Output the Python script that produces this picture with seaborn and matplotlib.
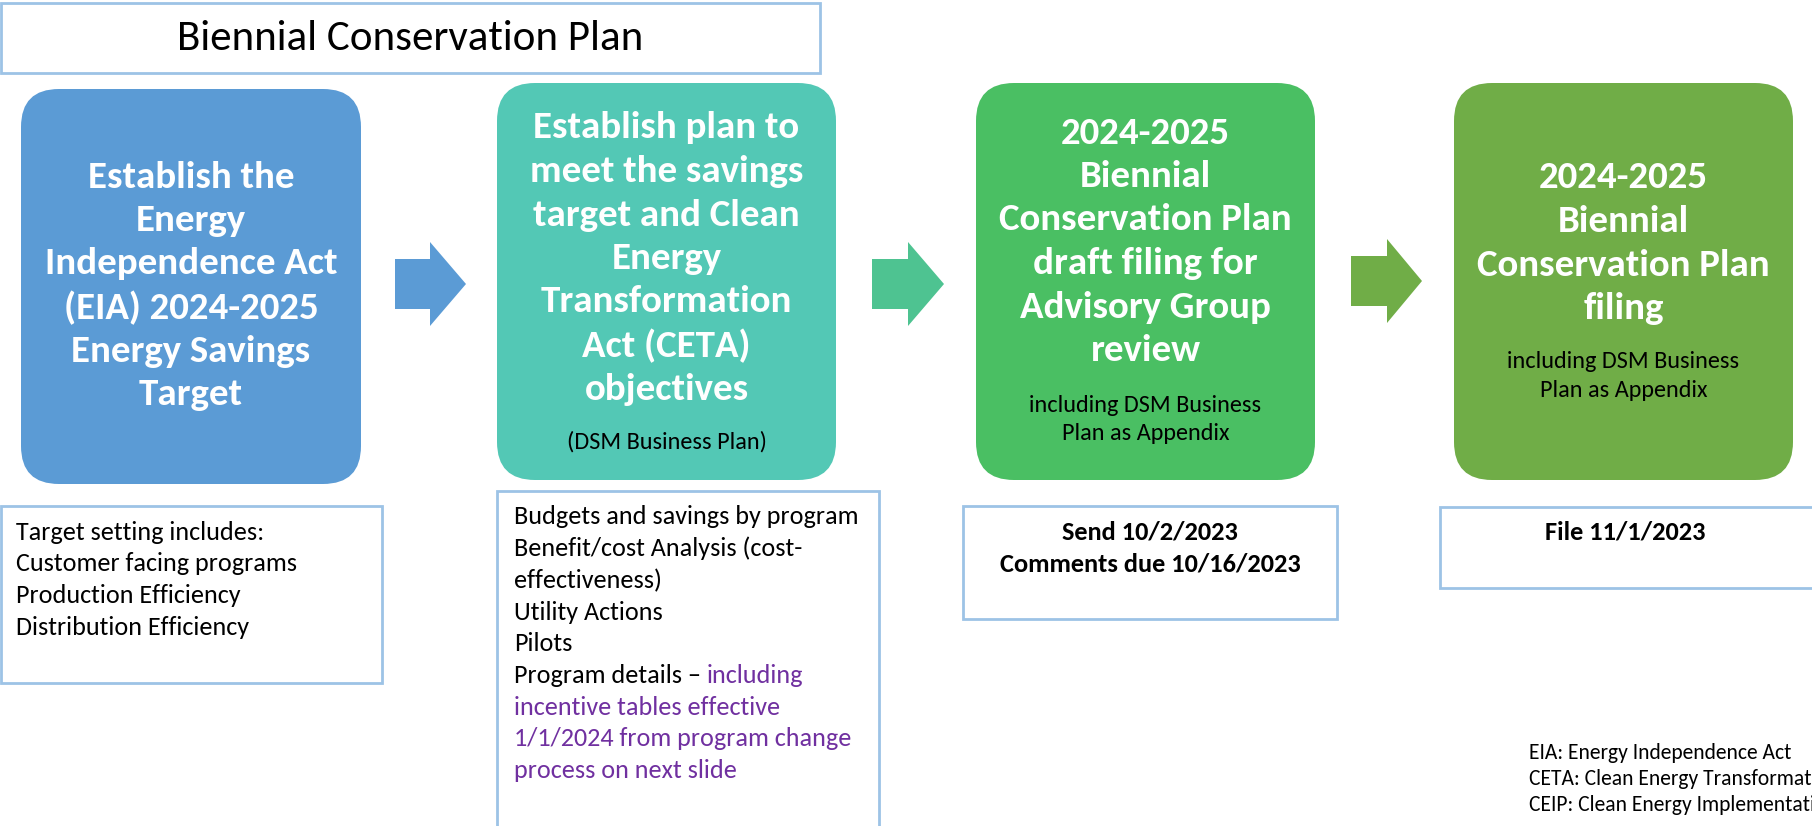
import numpy as np
import pandas as pd
import seaborn as sns
import matplotlib.pyplot as plt
from matplotlib.patches import FancyBboxPatch, Rectangle, Polygon

sns.set_theme(style="white")
# Calibri look-alike first, Lato as fallback
plt.rcParams['font.family'] = ['Carlito', 'Lato', 'DejaVu Sans']

# ---- content ----
title_text = "Biennial Conservation Plan"

step_colors = ["#5B9BD5", "#53C8B5", "#4ABF63", "#70AD47"]
arrow_colors = ["#5B9BD5", "#4EC391", "#70AD47"]
outline_color = "#9DC3E6"
purple = "#7030A0"

step_titles = [
    ["Establish the", "Energy", "Independence Act", "(EIA) 2024-2025", "Energy Savings", "Target"],
    ["Establish plan to", "meet the savings", "target and Clean", "Energy", "Transformation",
     "Act (CETA)", "objectives"],
    ["2024-2025", "Biennial", "Conservation Plan", "draft filing for", "Advisory Group", "review"],
    ["2024-2025", "Biennial", "Conservation Plan", "filing"],
]
step_notes = [
    [],
    ["(DSM Business Plan)"],
    ["including DSM Business", "Plan as Appendix"],
    ["including DSM Business", "Plan as Appendix"],
]

target_lines = ["Target setting includes:", "Customer facing programs",
                "Production Efficiency", "Distribution Efficiency"]
plan_lines = ["Budgets and savings by program", "Benefit/cost Analysis (cost-",
              "effectiveness)", "Utility Actions", "Pilots", "Program details \u2013 "]
plan_purple = ["including", "incentive tables effective",
               "1/1/2024 from program change", "process on next slide"]
draft_dates = ["Send 10/2/2023", "Comments due 10/16/2023"]
file_dates = ["File 11/1/2023"]
footnotes = ["EIA: Energy Independence Act",
             "CETA: Clean Energy Transformation Act",
             "CEIP: Clean Energy Implementation Plan"]

# ---- layout (pixel space, y down) ----
W, H = 1812, 826
step_boxes = [(21, 361, 89, 484), (497, 836, 83, 480), (976, 1315, 83, 480), (1454, 1793, 83, 480)]
title_y0 = [177, 128, 133, 178]
note_y0 = [None, 442, 405, 362]
arrows = [(395, 430, 466, 284), (872, 908, 944, 284), (1351, 1387, 1422, 281)]

fig = plt.figure(figsize=(W / 100, H / 100), dpi=100)
ax = fig.add_axes([0, 0, 1, 1])
ax.set_xlim(0, W)
ax.set_ylim(H, 0)
ax.axis('off')

# header box
ax.add_patch(Rectangle((1, 3), 819, 70, facecolor='white', edgecolor=outline_color, lw=2))
ax.text(410, 39, title_text, fontsize=31, ha='center', va='center', color='black')

# coloured step boxes
for i, (x0, x1, y0, y1) in enumerate(step_boxes):
    ax.add_patch(FancyBboxPatch((x0, y0), x1 - x0, y1 - y0,
                                boxstyle="round,pad=0,rounding_size=38",
                                facecolor=step_colors[i], edgecolor='none'))
    cx = (x0 + x1) / 2
    for k, line in enumerate(step_titles[i]):
        ax.text(cx, title_y0[i] + k * 43.5, line, fontsize=28, fontweight='bold',
                color='white', ha='center', va='center')
    for k, line in enumerate(step_notes[i]):
        ax.text(cx, note_y0[i] + k * 28.5, line, fontsize=17.5, color='black',
                ha='center', va='center')

# block arrows
for i, (xa, xh, xt, cy) in enumerate(arrows):
    pts = [(xa, cy - 25), (xh, cy - 25), (xh, cy - 42), (xt, cy), (xh, cy + 42),
           (xh, cy + 25), (xa, cy + 25)]
    ax.add_patch(Polygon(pts, closed=True, facecolor=arrow_colors[i], edgecolor='none'))

# outlined detail boxes
ax.add_patch(Rectangle((1, 506), 381, 177, facecolor='white', edgecolor=outline_color, lw=2))
ax.add_patch(Rectangle((497, 491), 382, 345, facecolor='white', edgecolor=outline_color, lw=2))
ax.add_patch(Rectangle((963, 506), 374, 113, facecolor='white', edgecolor=outline_color, lw=2))
ax.add_patch(Rectangle((1440, 507), 380, 81, facecolor='white', edgecolor=outline_color, lw=2))

for k, line in enumerate(target_lines):
    ax.text(16, 532 + k * 31.7, line, fontsize=18.8, color='black', ha='left', va='center')

for k, line in enumerate(plan_lines):
    t = ax.text(514, 517 + k * 31.7, line, fontsize=18.8, color='black', ha='left', va='center')
# purple continuation on the last black line
fig.canvas.draw()
bb = t.get_window_extent()
x_end = ax.transData.inverted().transform((bb.x1, 0))[0]
ax.text(x_end, 517 + 5 * 31.7, plan_purple[0], fontsize=18.8, color=purple, ha='left', va='center')
for k, line in enumerate(plan_purple[1:]):
    ax.text(514, 517 + (6 + k) * 31.7, line, fontsize=18.8, color=purple, ha='left', va='center')

for k, line in enumerate(draft_dates):
    ax.text(1150, 532 + k * 31.5, line, fontsize=19, fontweight='bold', color='black',
            ha='center', va='center')
ax.text(1625, 532, file_dates[0], fontsize=19, fontweight='bold', color='black',
        ha='center', va='center')

for k, line in enumerate(footnotes):
    ax.text(1529, 753 + k * 26, line, fontsize=15.5, color='black', ha='left', va='center')

fig.savefig("out.png", dpi=100)
